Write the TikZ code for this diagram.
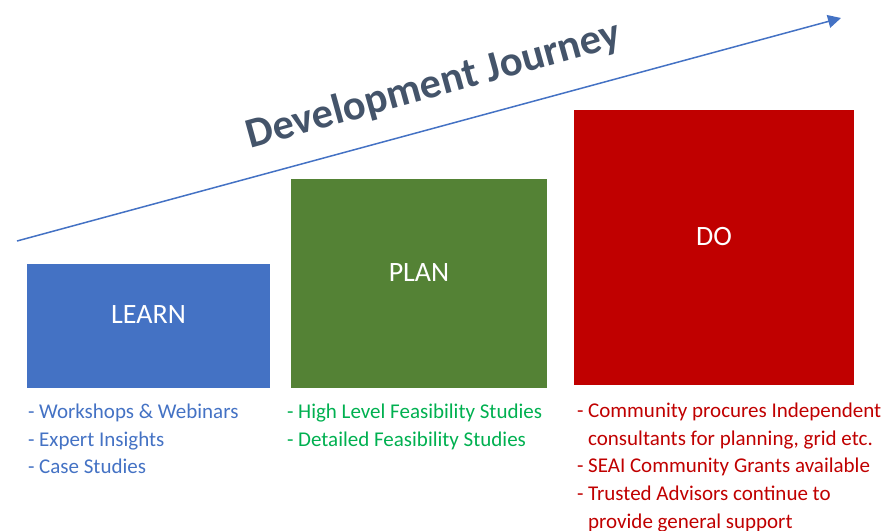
\documentclass[tikz,border=0pt]{standalone}
\usepackage{fontspec}
\setmainfont{Carlito}
\usetikzlibrary{positioning,arrows.meta}

\definecolor{learnblue}{HTML}{4472C4}
\definecolor{plangreen}{HTML}{548235}
\definecolor{dored}{HTML}{C00000}
\definecolor{listgreen}{HTML}{00B050}
\definecolor{titlegrey}{HTML}{44546A}

\begin{document}
\begin{tikzpicture}[
      x=1pt,y=-1pt,
      >={Triangle[length=13pt,width=13pt]},
      stage/.style={fill=#1,draw=none,inner sep=0pt},
      stagelbl/.style={text=white,inner sep=0pt,font=\fontsize{28}{32}\selectfont},
      lst/.style={anchor=base west,inner sep=0pt,align=left,font=\fontsize{21}{27.8}\selectfont},
    ]
    \useasboundingbox (0,0) rectangle (888,530);
    \clip (0,0) rectangle (888,530);

    % Journey arrow
    \coordinate (jstart) at (17,241);
    \coordinate (jend) at (841,18);
    \draw[->,learnblue,line width=1.5pt] (jstart) -- (jend);
    \node[text=titlegrey,anchor=base,rotate=15.5,inner sep=0pt,
          font=\fontsize{42.5}{48}\selectfont\bfseries] (title) at (437,97) {Development Journey};

    % Learn
    \node[stage=learnblue,minimum width=243pt,minimum height=124pt] (learn) at (148.5,326) {};
    \node[stagelbl,yshift=11pt] (learnlbl) at (learn.center) {LEARN};
    \node[lst,text=learnblue,xshift=1pt,yshift=-85.6pt] (learnlist) at (learn.south west)
      {- Workshops \& Webinars\\- Expert Insights\\- Case Studies};

    % Plan
    \node[stage=plangreen,minimum width=256pt,minimum height=209pt] (plan) at (419,283.5) {};
    \node[stagelbl,yshift=11pt] (planlbl) at (plan.center) {PLAN};
    \node[lst,text=listgreen,xshift=-4pt,yshift=-57.8pt] (planlist) at (plan.south west)
      {- High Level Feasibility Studies\\- Detailed Feasibility Studies};

    % Do
    \node[stage=dored,minimum width=280pt,minimum height=275pt] (do) at (714,247.5) {};
    \node[stagelbl,yshift=10.5pt] (dolbl) at (do.center) {DO};
    \node[lst,text=dored,xshift=3pt,yshift=-143.2pt] (dolist) at (do.south west)
      {- Community procures Independent\\\hphantom{-}\ consultants for planning, grid etc.\\- SEAI Community Grants available\\- Trusted Advisors continue to\\\hphantom{-}\ provide general support};
  \end{tikzpicture}
\end{document}
